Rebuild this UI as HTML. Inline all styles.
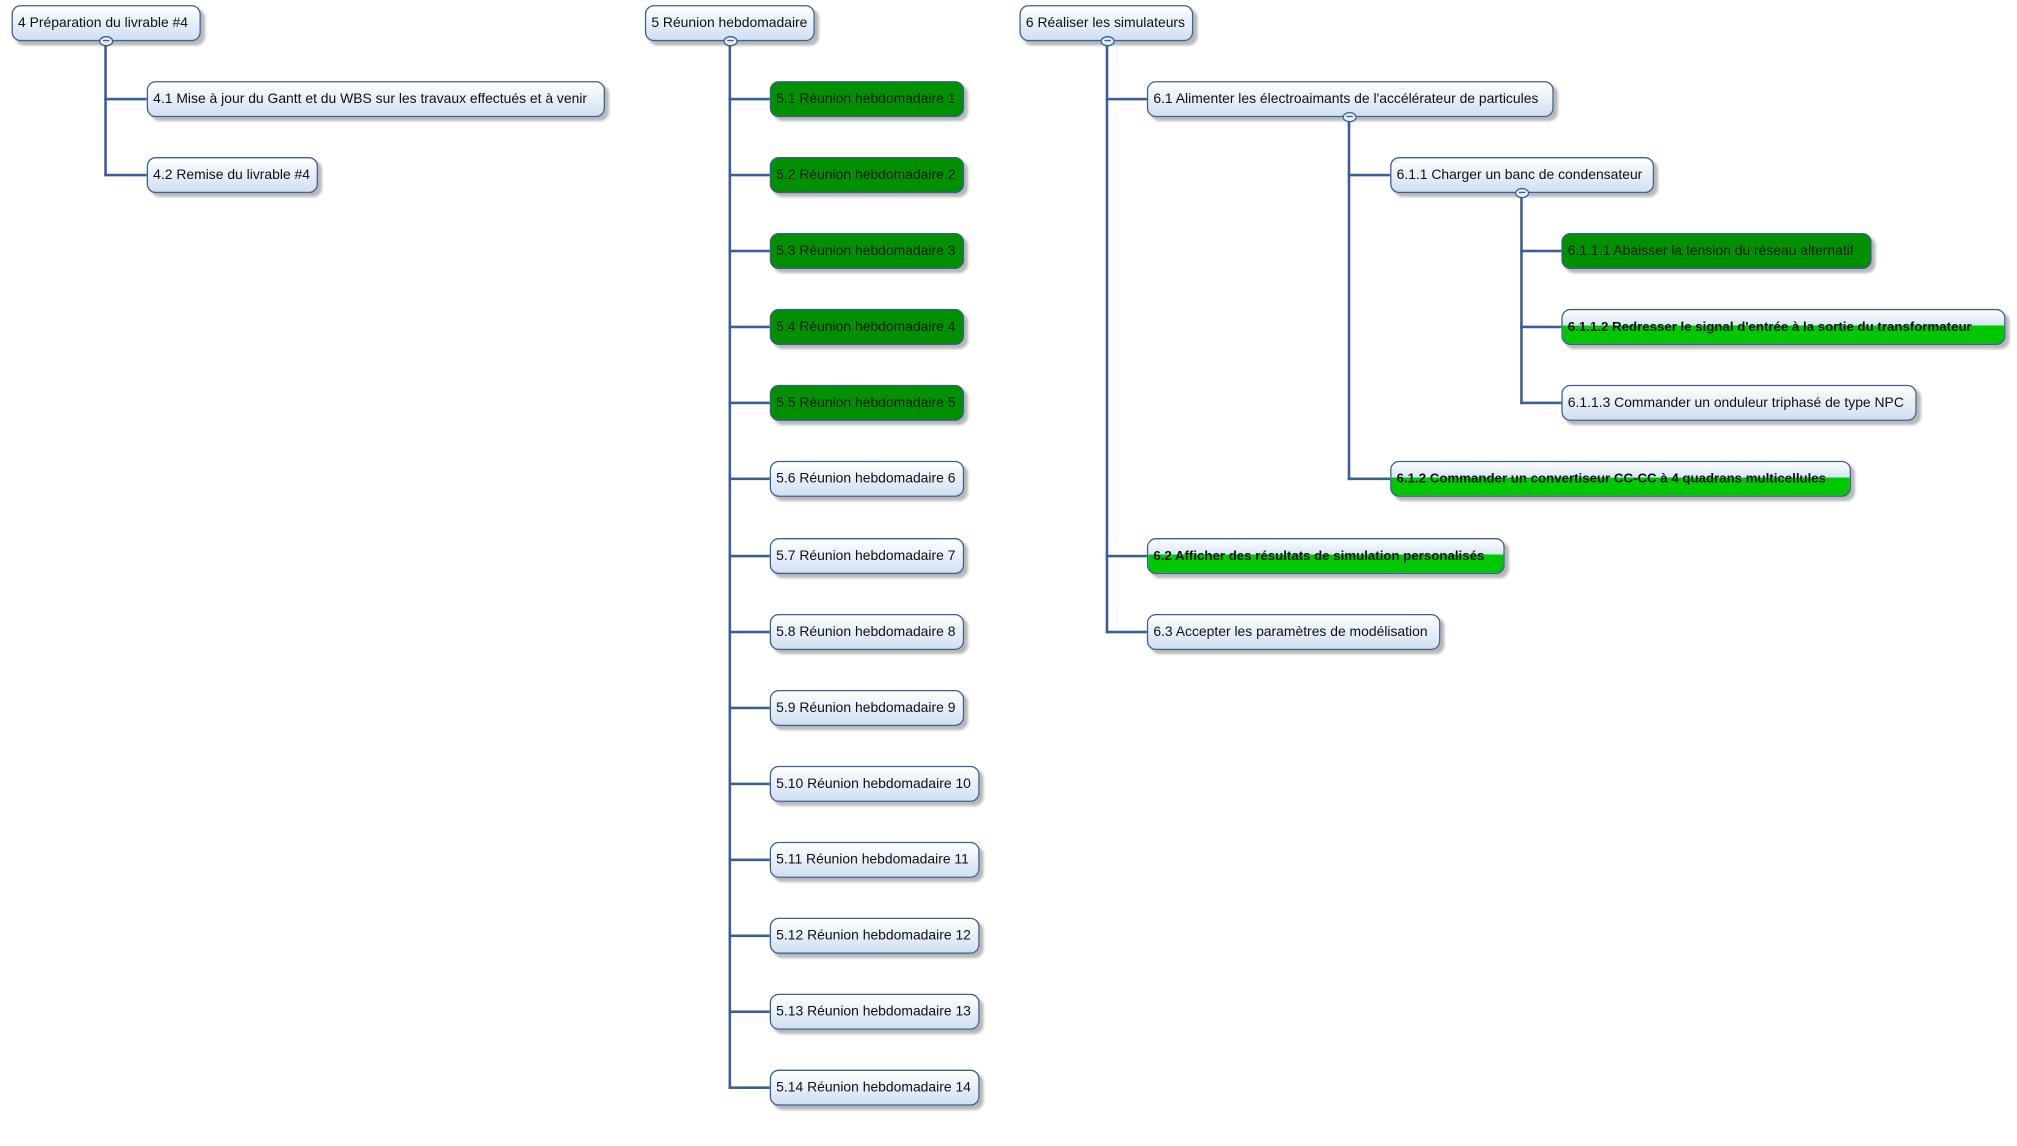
<!DOCTYPE html>
<html><head><meta charset="utf-8"><style>
html,body{margin:0;padding:0;background:#fff;width:2017px;height:1146px;overflow:hidden}
#c{position:absolute;left:0;top:0;width:1567px;height:890px;transform:scale(1.2872);transform-origin:0 0;font-family:"Liberation Sans",sans-serif;font-size:10.8px;color:#111}
.n{position:absolute;height:28px;line-height:27px;box-sizing:border-box;border:1.6px solid #3b5f92;border-radius:7px;padding-left:4px;white-space:nowrap;background:linear-gradient(#ffffff,#cfdff2);box-shadow:3px 3px 2px rgba(0,0,0,0.28);overflow:hidden}
.g{background:#009000;color:#0a1a0a}
.b{background:linear-gradient(#ffffff 0%,#d6e4f5 46%,#00c800 46%,#00c800 100%);font-weight:bold;font-size:10.3px}
.v{position:absolute;width:2px;background:#3b5f92}
.h{position:absolute;height:2px;background:#3b5f92}
.o{position:absolute;width:11px;height:8px;box-sizing:border-box;border:1.4px solid #3b5f92;border-radius:50%;background:#e4edf8}
.o::after{content:"";position:absolute;left:2px;right:2px;top:2px;height:1.2px;background:#3b5f92}
</style></head><body><div id="c">
<!-- group 4 -->
<div class="v" style="left:81px;top:32px;height:105px"></div>
<div class="h" style="left:81px;top:76px;width:33px"></div>
<div class="h" style="left:81px;top:135px;width:33px"></div>
<div class="n" style="left:9px;top:4px;width:147px">4 Préparation du livrable #4</div>
<div class="o" style="left:77px;top:28px"></div>
<div class="n" style="left:114px;top:63px;width:356px">4.1 Mise à jour du Gantt et du WBS sur les travaux effectués et à venir</div>
<div class="n" style="left:114px;top:122px;width:133px">4.2 Remise du livrable #4</div>

<!-- group 5 -->
<div class="v" style="left:566px;top:32px;height:814px"></div>
<div class="h" style="left:566px;top:76px;width:32px"></div>
<div class="h" style="left:566px;top:135px;width:32px"></div>
<div class="h" style="left:566px;top:194px;width:32px"></div>
<div class="h" style="left:566px;top:253px;width:32px"></div>
<div class="h" style="left:566px;top:312px;width:32px"></div>
<div class="h" style="left:566px;top:371px;width:32px"></div>
<div class="h" style="left:566px;top:431px;width:32px"></div>
<div class="h" style="left:566px;top:490px;width:32px"></div>
<div class="h" style="left:566px;top:549px;width:32px"></div>
<div class="h" style="left:566px;top:608px;width:32px"></div>
<div class="h" style="left:566px;top:667px;width:32px"></div>
<div class="h" style="left:566px;top:726px;width:32px"></div>
<div class="h" style="left:566px;top:785px;width:32px"></div>
<div class="h" style="left:566px;top:844px;width:32px"></div>
<div class="n" style="left:501px;top:4px;width:132px">5 Réunion hebdomadaire</div>
<div class="o" style="left:562px;top:28px"></div>
<div class="n g" style="left:598px;top:63px;width:151px">5.1 Réunion hebdomadaire 1</div>
<div class="n g" style="left:598px;top:122px;width:151px">5.2 Réunion hebdomadaire 2</div>
<div class="n g" style="left:598px;top:181px;width:151px">5.3 Réunion hebdomadaire 3</div>
<div class="n g" style="left:598px;top:240px;width:151px">5.4 Réunion hebdomadaire 4</div>
<div class="n g" style="left:598px;top:299px;width:151px">5.5 Réunion hebdomadaire 5</div>
<div class="n" style="left:598px;top:358px;width:151px">5.6 Réunion hebdomadaire 6</div>
<div class="n" style="left:598px;top:418px;width:151px">5.7 Réunion hebdomadaire 7</div>
<div class="n" style="left:598px;top:477px;width:151px">5.8 Réunion hebdomadaire 8</div>
<div class="n" style="left:598px;top:536px;width:151px">5.9 Réunion hebdomadaire 9</div>
<div class="n" style="left:598px;top:595px;width:163px">5.10 Réunion hebdomadaire 10</div>
<div class="n" style="left:598px;top:654px;width:163px">5.11 Réunion hebdomadaire 11</div>
<div class="n" style="left:598px;top:713px;width:163px">5.12 Réunion hebdomadaire 12</div>
<div class="n" style="left:598px;top:772px;width:163px">5.13 Réunion hebdomadaire 13</div>
<div class="n" style="left:598px;top:831px;width:163px">5.14 Réunion hebdomadaire 14</div>

<!-- group 6 -->
<div class="v" style="left:859px;top:32px;height:460px"></div>
<div class="h" style="left:859px;top:76px;width:32px"></div>
<div class="h" style="left:859px;top:431px;width:32px"></div>
<div class="h" style="left:859px;top:490px;width:32px"></div>
<div class="v" style="left:1047px;top:91px;height:282px"></div>
<div class="h" style="left:1047px;top:135px;width:33px"></div>
<div class="h" style="left:1047px;top:371px;width:33px"></div>
<div class="v" style="left:1181px;top:150px;height:164px"></div>
<div class="h" style="left:1181px;top:194px;width:32px"></div>
<div class="h" style="left:1181px;top:253px;width:32px"></div>
<div class="h" style="left:1181px;top:312px;width:32px"></div>
<div class="n" style="left:792px;top:4px;width:135px">6 Réaliser les simulateurs</div>
<div class="o" style="left:855px;top:28px"></div>
<div class="n" style="left:891px;top:63px;width:316px">6.1 Alimenter les électroaimants de l'accélérateur de particules</div>
<div class="o" style="left:1043px;top:87px"></div>
<div class="n" style="left:1080px;top:122px;width:205px">6.1.1 Charger un banc de condensateur</div>
<div class="o" style="left:1177px;top:146px"></div>
<div class="n g" style="left:1213px;top:181px;width:241px">6.1.1.1 Abaisser la tension du réseau alternatif</div>
<div class="n b" style="left:1213px;top:240px;width:345px">6.1.1.2 Redresser le signal d'entrée à la sortie du transformateur</div>
<div class="n" style="left:1213px;top:299px;width:276px">6.1.1.3 Commander un onduleur triphasé de type NPC</div>
<div class="n b" style="left:1080px;top:358px;width:358px">6.1.2 Commander un convertiseur CC-CC à 4 quadrans multicellules</div>
<div class="n b" style="left:891px;top:418px;width:278px">6.2 Afficher des résultats de simulation personalisés</div>
<div class="n" style="left:891px;top:477px;width:228px">6.3 Accepter les paramètres de modélisation</div>
</div></body></html>
